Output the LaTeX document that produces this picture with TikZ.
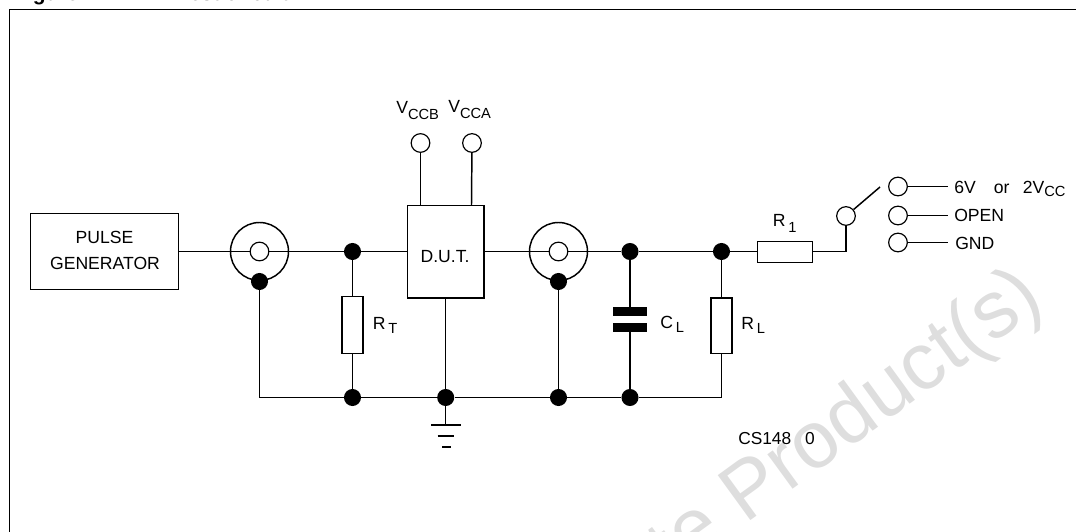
\documentclass[tikz,border=0pt]{standalone}
\usepackage{fontspec}
\setmainfont{Liberation Sans}
\usetikzlibrary{calc}
\definecolor{wm}{HTML}{DEDEDE}
\tikzset{
 x=0.75pt,y=-0.75pt,
 wire/.style={line width=1.1pt,black},
 box/.style={draw=black,line width=1.1pt,fill=white,inner sep=0pt},
 dot/.style={circle,fill=black,draw=none,minimum size=12.8pt,inner sep=0pt},
 ring/.style={circle,draw=black,line width=0.9pt,fill=white,minimum size=14pt,inner sep=0pt},
 coax/.style={circle,draw=black,line width=1.1pt,minimum size=43.5pt,inner sep=0pt},
 lbl/.style={inner sep=0pt,font=\fontsize{13.2}{20}\selectfont,anchor=base west},
 plate/.style={fill=black,draw=none,minimum width=25.5pt,minimum height=6.6pt,inner sep=0pt}
}
\newcommand{\subl}[3][-3pt]{#2\raisebox{#1}{\fontsize{11}{13}\selectfont #3}}
\begin{document}
\begin{tikzpicture}
\useasboundingbox (0,0) rectangle (1076,532);
\begin{scope}
\clip (0,0) rectangle (1076,532);
\node[rotate=36,text=wm,font=\fontsize{60.6}{66}\selectfont,anchor=base east,inner sep=0pt] (wmark) at (1047,305) {te Product(s)};
\node[font=\bfseries\fontsize{15.75}{18}\selectfont,anchor=base west,inner sep=0pt] (title) at (14,0.2) {Figure};
\node[font=\bfseries\fontsize{15.75}{18}\selectfont,anchor=base west,inner sep=0pt] (title2) at (178,0.2) {Test circuit};
\end{scope}
\coordinate (fbl) at (9.5,532); \coordinate (ftl) at (9.5,9.5); \coordinate (ftr) at (1076,9.5);
\draw[line width=1.1pt] (fbl) -- (ftl) -- (ftr);

% components
\node[box,minimum width=111pt,minimum height=57pt] (pg) at (104.75,251.5) {};
\node[coax] (c1) at (259.5,251.5) {};
\node[box,minimum width=57.6pt,minimum height=69.7pt] (dut) at (445.7,251.7) {};
\node[coax] (c2) at (558.5,251.5) {};
\node[ring] (c1i) at (259.5,251.5) {};
\node[ring] (c2i) at (558.5,251.5) {};
\node[dot] (d1) at (352.5,251.5) {};
\node[dot] (d2) at (630,251.5) {};
\node[dot] (d3) at (721.5,251.5) {};
\node[dot] (c1b) at (259.5,281.5) {};
\node[dot] (c2b) at (558.5,281.5) {};
\node[dot] (b1) at (352.5,397.5) {};
\node[dot] (b2) at (445.7,397.5) {};
\node[dot] (b3) at (558.5,397.5) {};
\node[dot] (b4) at (630,397.5) {};
\coordinate (c1c) at (259.5,397.5);
\coordinate (b5) at (721.5,397.5);
\node[box,minimum width=15.6pt,minimum height=43pt] (rt) at (352.5,325) {};
\node[box,minimum width=15.6pt,minimum height=41.5pt] (rl) at (721.5,325.8) {};
\node[box,minimum width=41.5pt,minimum height=15.7pt] (r1) at (785,252) {};
\node[plate] (cp1) at (630,311.5) {};
\node[plate] (cp2) at (630,327.5) {};
\node[ring] (vb) at (420.5,143) {};
\node[ring] (va) at (472,143) {};
\node[ring] (sw) at (846,216) {};
\node[ring] (s1) at (898,186.5) {};
\node[ring] (s2) at (898,215.5) {};
\node[ring] (s3) at (898,242.5) {};
\coordinate (vbe) at (420.5,205);
\coordinate (vae) at (471.5,205);
\coordinate (swl) at (846,251.5);
\coordinate (swt) at (880,187);
\coordinate (s1e) at (947.5,186.5);
\coordinate (s2e) at (947.5,215.5);
\coordinate (s3e) at (947.5,242.5);
\coordinate (g0) at (445.7,425);
\coordinate (g1a) at (431,425); \coordinate (g1b) at (461,425);
\coordinate (g2a) at (437.5,436); \coordinate (g2b) at (454,436);
\coordinate (g3a) at (442,447); \coordinate (g3b) at (451,447);

% wires
\draw[wire] (pg.east |- c1i) -- (c1i.west);
\draw[wire] (c1i.east) -- (d1) -- (dut.west |- d1);
\draw[wire] (dut.east |- c2i) -- (c2i.west);
\draw[wire] (c2i.east) -- (d2) -- (d3) -- (r1.west |- d3);
\draw[wire] (r1.east |- swl) -- (swl) -- (sw.south);
\draw[wire] (sw) -- (swt);
\draw[wire] (c1b) -- (c1c) -- (b1) -- (b2) -- (b3) -- (b4) -- (b5) -- (rl.south -| b5);
\draw[wire] (rl.north -| d3) -- (d3);
\draw[wire] (d1) -- (rt.north);
\draw[wire] (rt.south) -- (b1);
\draw[wire] (dut.south) -- (b2);
\draw[wire] (b2) -- (g0);
\draw[wire] (g1a) -- (g1b);
\draw[wire] (g2a) -- (g2b);
\draw[wire] (g3a) -- (g3b);
\draw[wire] (c2b) -- (b3);
\draw[wire] (d2) -- (cp1);
\draw[wire] (cp2) -- (b4);
\draw[wire] (vb) -- (vbe);
\draw[wire] (va) -- (vae);
\draw[wire] (s1) -- (s1e);
\draw[wire] (s2) -- (s2e);
\draw[wire] (s3) -- (s3e);

% labels
\node[lbl,anchor=base] (lp1) at (104.5,243) {PULSE};
\node[lbl,anchor=base] (lp2) at (105,269.5) {GENERATOR};
\node[lbl,anchor=base] (ldut) at (445,262.5) {D.U.T.};
\node[lbl] (lvb) at (396,113) {\subl[-5pt]{V}{CCB}};
\node[lbl] (lva) at (448,112) {\subl[-5pt]{V}{CCA}};
\node[lbl] (lrt) at (372.5,329.5) {R\,\subl{}{T}};
\node[lbl] (lcl) at (660,328) {C\,\subl[-3.7pt]{}{L}};
\node[lbl] (lrl) at (741,329) {R\,\subl{}{L}};
\node[lbl] (lr1) at (772.5,226) {R\,\subl[-4.5pt]{}{1}};
\node[lbl] (l6) at (954,193) {6V\hspace{13.5pt}or\hspace{10pt}2\subl[-2.7pt]{V}{CC}};
\node[lbl] (lo) at (954,221.7) {OPEN};
\node[lbl] (lg) at (955,249.5) {GND};
\node[lbl,font=\fontsize{13}{15}\selectfont] (lcs) at (738,444.7) {CS148\hspace{10.5pt}0};
\end{tikzpicture}
\end{document}
